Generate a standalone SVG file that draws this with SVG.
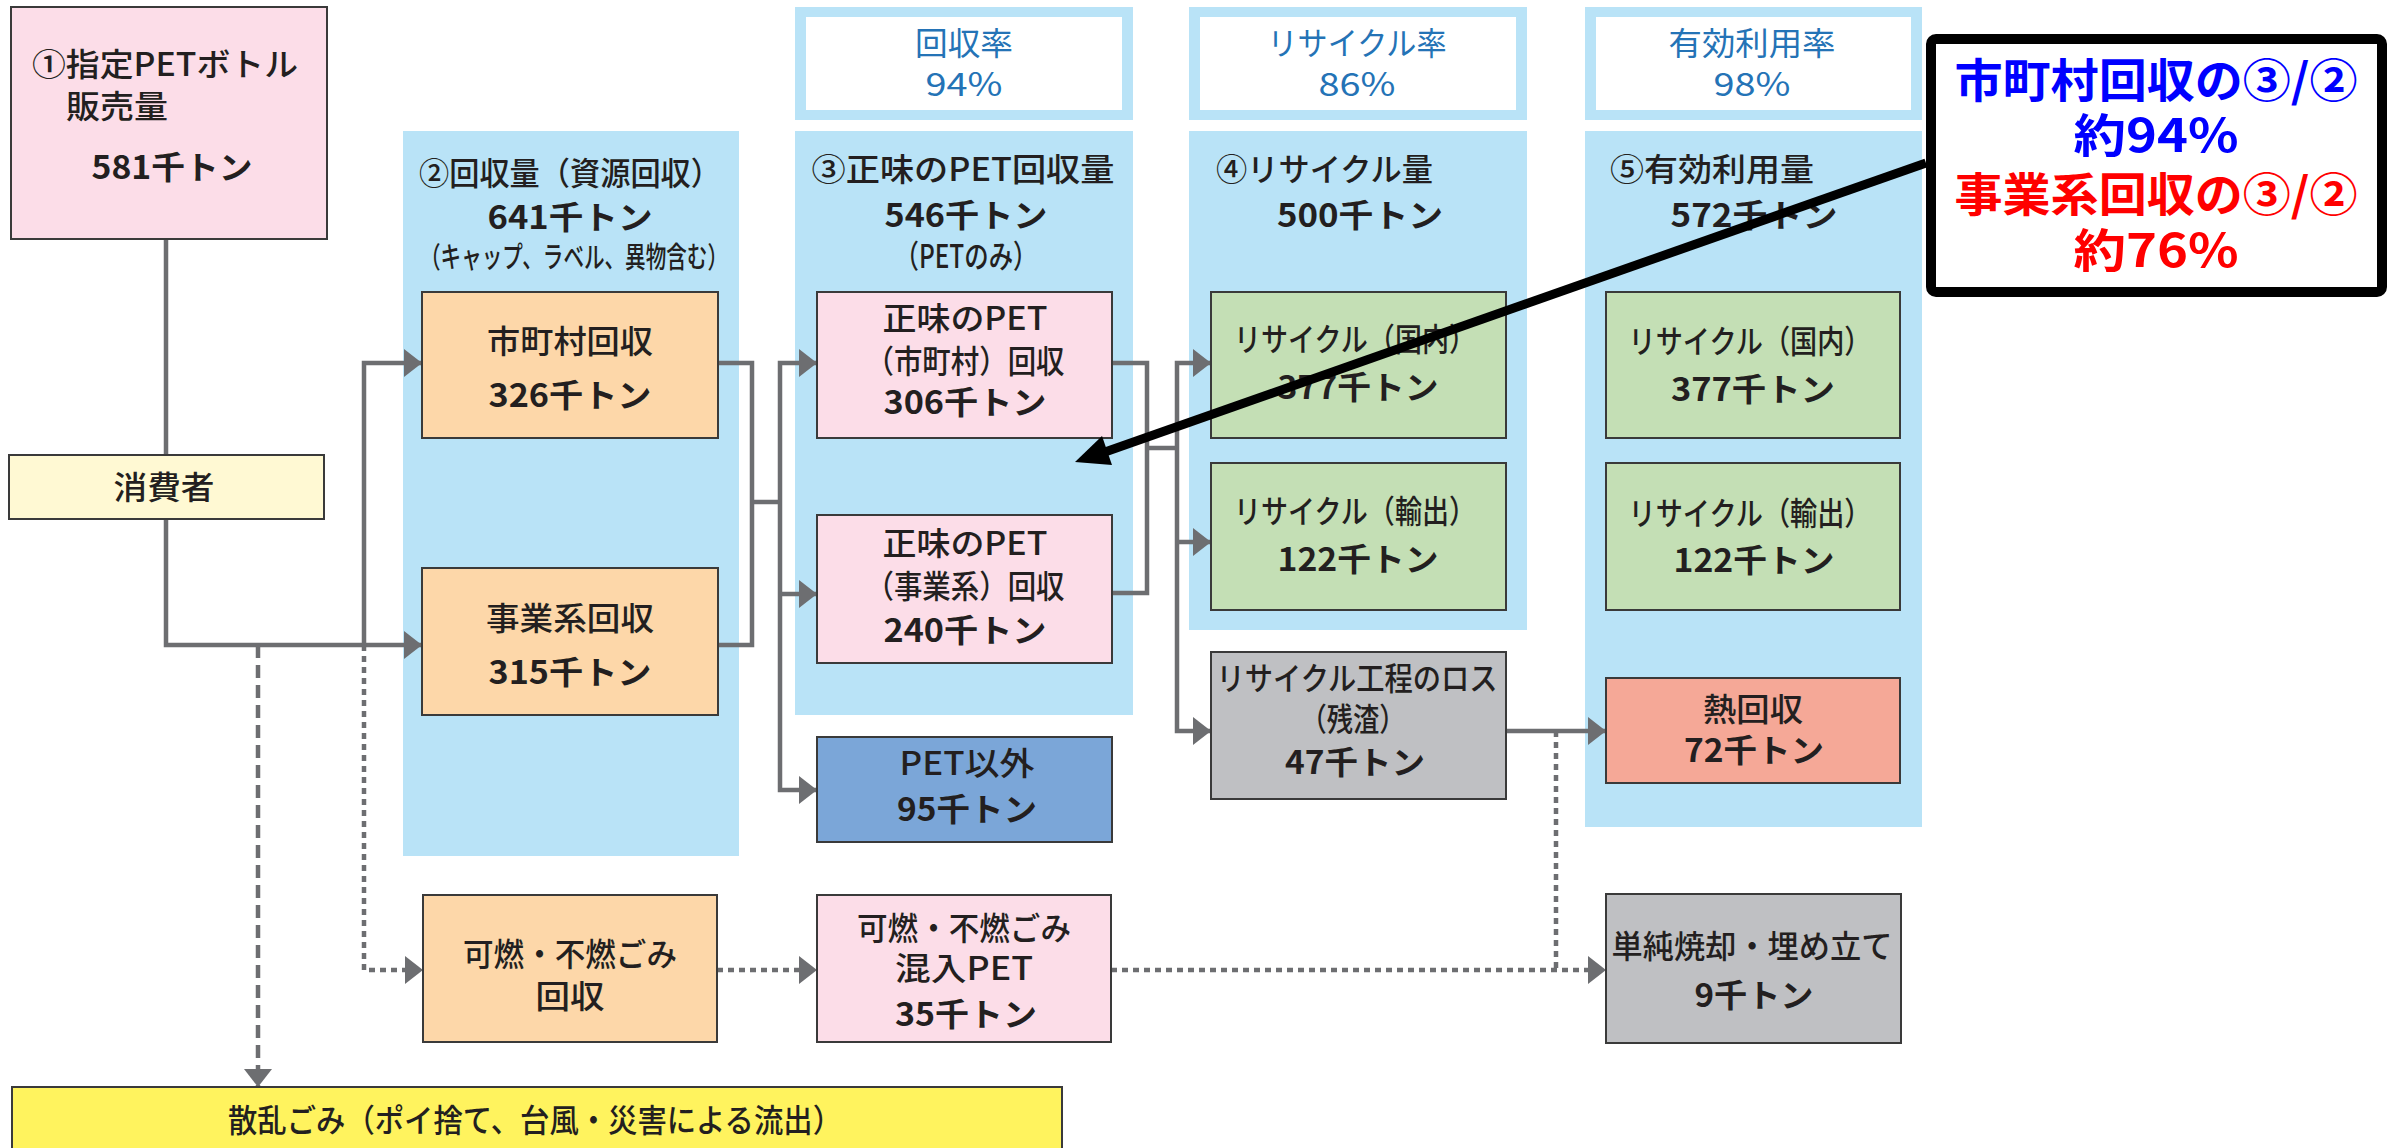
<svg xmlns="http://www.w3.org/2000/svg" width="2389" height="1148" viewBox="0 0 2389 1148">
<style>
.panel{fill:#B9E3F7}
.box{stroke:#3a3a3a;stroke-width:2}
.pink{fill:#FCDDE8}
.orange{fill:#FDD7A9}
.green{fill:#C4DFB5}
.gray{fill:#BFC0C3}
.t{font-family:"Noto Sans CJK JP","Noto Sans",sans-serif;font-size:32px;font-weight:500;fill:#231F20;text-anchor:middle}
.n{font-weight:bold}
.s{text-anchor:start}
.rate{fill:#2473B6;font-weight:normal}
.conn{stroke:#6D6E71;stroke-width:4.5;fill:none}
.dot{stroke-dasharray:6 5}
.dash{stroke-dasharray:13 7}
.co{font-family:"Noto Sans CJK JP",sans-serif;font-size:46px;font-weight:bold;text-anchor:middle}
</style>
<defs>
<marker id="ah" markerUnits="userSpaceOnUse" markerWidth="18" markerHeight="28" refX="18" refY="14" orient="auto">
<path d="M0,0 L18,14 L0,28 z" fill="#6D6E71"/>
</marker>
</defs>
<rect width="2389" height="1148" fill="#FFFFFF"/>

<g id="panels">
<rect class="panel" x="403" y="131" width="336" height="725"/>
<rect class="panel" x="795" y="131" width="338" height="584"/>
<rect class="panel" x="1189" y="131" width="338" height="499"/>
<rect class="panel" x="1585" y="131" width="337" height="696"/>
</g>

<g id="rate-recovery">
<rect class="panel" x="795" y="7" width="338" height="113"/>
<rect x="806" y="17" width="316" height="93" fill="#FFFFFF"/>
<text class="t rate" x="964" y="55" textLength="98" lengthAdjust="spacingAndGlyphs">回収率</text>
<text class="t rate" x="964" y="96" textLength="77" lengthAdjust="spacingAndGlyphs">94%</text>
</g>
<g id="rate-recycle">
<rect class="panel" x="1189" y="7" width="338" height="113"/>
<rect x="1200" y="17" width="316" height="93" fill="#FFFFFF"/>
<text class="t rate" x="1357" y="55" textLength="179" lengthAdjust="spacingAndGlyphs">リサイクル率</text>
<text class="t rate" x="1357" y="96" textLength="77" lengthAdjust="spacingAndGlyphs">86%</text>
</g>
<g id="rate-effective">
<rect class="panel" x="1585" y="7" width="337" height="113"/>
<rect x="1596" y="17" width="315" height="93" fill="#FFFFFF"/>
<text class="t rate" x="1752" y="55" textLength="167" lengthAdjust="spacingAndGlyphs">有効利用率</text>
<text class="t rate" x="1752" y="96" textLength="77" lengthAdjust="spacingAndGlyphs">98%</text>
</g>

<g id="panel-titles">
<text class="t" x="570" y="185" textLength="302" lengthAdjust="spacingAndGlyphs">②回収量（資源回収）</text>
<text class="t n" x="570" y="229" textLength="165" lengthAdjust="spacingAndGlyphs">641千トン</text>
<text class="t" x="574" y="268" style="font-size:29px" textLength="308" lengthAdjust="spacingAndGlyphs">（キャップ、ラベル、異物含む）</text>
<text class="t" x="963" y="181" textLength="303" lengthAdjust="spacingAndGlyphs">③正味のPET回収量</text>
<text class="t n" x="966" y="227" textLength="163" lengthAdjust="spacingAndGlyphs">546千トン</text>
<text class="t" x="966" y="268" textLength="143" lengthAdjust="spacingAndGlyphs">（PETのみ）</text>
<text class="t s" x="1216" y="181" textLength="217" lengthAdjust="spacingAndGlyphs">④リサイクル量</text>
<text class="t n" x="1360" y="227" textLength="166" lengthAdjust="spacingAndGlyphs">500千トン</text>
<text class="t s" x="1610" y="181" textLength="204" lengthAdjust="spacingAndGlyphs">⑤有効利用量</text>
<text class="t n" x="1754" y="227" textLength="167" lengthAdjust="spacingAndGlyphs">572千トン</text>
</g>

<g id="connectors">
<path class="conn" d="M166,239 V455"/>
<path class="conn" d="M166,519 V645 H422" marker-end="url(#ah)"/>
<path class="conn" d="M364,645 V363 H422" marker-end="url(#ah)"/>
<path class="conn dot" d="M364,645 V970 H423" marker-end="url(#ah)"/>
<path class="conn dash" d="M258,645 V1087" marker-end="url(#ah)"/>
<path class="conn" d="M718,363 H752 V645 H718"/>
<path class="conn" d="M752,502 H780"/>
<path class="conn" d="M780,502 V363 H817" marker-end="url(#ah)"/>
<path class="conn" d="M780,502 V790 H817" marker-end="url(#ah)"/>
<path class="conn" d="M780,594 H817" marker-end="url(#ah)"/>
<path class="conn" d="M1112,363 H1147 V593 H1112"/>
<path class="conn" d="M1147,448 H1177"/>
<path class="conn" d="M1177,448 V363 H1211" marker-end="url(#ah)"/>
<path class="conn" d="M1177,448 V731 H1211" marker-end="url(#ah)"/>
<path class="conn" d="M1177,542 H1211" marker-end="url(#ah)"/>
<path class="conn" d="M1506,731 H1606" marker-end="url(#ah)"/>
<path class="conn dot" d="M1556,731 V970"/>
<path class="conn dot" d="M717,970 H817" marker-end="url(#ah)"/>
<path class="conn dot" d="M1111,970 H1606" marker-end="url(#ah)"/>
</g>

<g id="n1-sales">
<rect class="box pink" x="11" y="7" width="316" height="232"/>
<text class="t s" x="32" y="76" textLength="266" lengthAdjust="spacingAndGlyphs">①指定PETボトル</text>
<text class="t s" x="66" y="118" textLength="102" lengthAdjust="spacingAndGlyphs">販売量</text>
<text class="t n" x="172" y="179" textLength="161" lengthAdjust="spacingAndGlyphs">581千トン</text>
</g>
<g id="n-consumer">
<rect class="box" x="9" y="455" width="315" height="64" fill="#FFF9D3"/>
<text class="t" x="164" y="499" textLength="101" lengthAdjust="spacingAndGlyphs">消費者</text>
</g>
<g id="n-municipal">
<rect class="box orange" x="422" y="292" width="296" height="146"/>
<text class="t" x="570" y="353" textLength="166" lengthAdjust="spacingAndGlyphs">市町村回収</text>
<text class="t n" x="570" y="407" textLength="163" lengthAdjust="spacingAndGlyphs">326千トン</text>
</g>
<g id="n-business">
<rect class="box orange" x="422" y="568" width="296" height="147"/>
<text class="t" x="570" y="630" textLength="168" lengthAdjust="spacingAndGlyphs">事業系回収</text>
<text class="t n" x="570" y="684" textLength="163" lengthAdjust="spacingAndGlyphs">315千トン</text>
</g>
<g id="n-burnable">
<rect class="box orange" x="423" y="895" width="294" height="147"/>
<text class="t" x="570" y="966" textLength="214" lengthAdjust="spacingAndGlyphs">可燃・不燃ごみ</text>
<text class="t" x="570" y="1008" textLength="69" lengthAdjust="spacingAndGlyphs">回収</text>
</g>
<g id="n-net-municipal">
<rect class="box pink" x="817" y="292" width="295" height="146"/>
<text class="t" x="965" y="330" textLength="165" lengthAdjust="spacingAndGlyphs">正味のPET</text>
<text class="t" x="965" y="373" textLength="199" lengthAdjust="spacingAndGlyphs">（市町村）回収</text>
<text class="t n" x="965" y="414" textLength="163" lengthAdjust="spacingAndGlyphs">306千トン</text>
</g>
<g id="n-net-business">
<rect class="box pink" x="817" y="515" width="295" height="148"/>
<text class="t" x="965" y="555" textLength="165" lengthAdjust="spacingAndGlyphs">正味のPET</text>
<text class="t" x="965" y="598" textLength="199" lengthAdjust="spacingAndGlyphs">（事業系）回収</text>
<text class="t n" x="965" y="642" textLength="163" lengthAdjust="spacingAndGlyphs">240千トン</text>
</g>
<g id="n-non-pet">
<rect class="box" x="817" y="737" width="295" height="105" fill="#7BA6D8"/>
<text class="t" x="967" y="775" textLength="135" lengthAdjust="spacingAndGlyphs">PET以外</text>
<text class="t n" x="967" y="821" textLength="140" lengthAdjust="spacingAndGlyphs">95千トン</text>
</g>
<g id="n-mixed-pet">
<rect class="box pink" x="817" y="895" width="294" height="147"/>
<text class="t" x="964" y="940" textLength="214" lengthAdjust="spacingAndGlyphs">可燃・不燃ごみ</text>
<text class="t" x="964" y="980" textLength="138" lengthAdjust="spacingAndGlyphs">混入PET</text>
<text class="t n" x="966" y="1026" textLength="142" lengthAdjust="spacingAndGlyphs">35千トン</text>
</g>
<g id="n-recycle-domestic">
<rect class="box green" x="1211" y="292" width="295" height="146"/>
<text class="t" x="1355" y="351" textLength="242" lengthAdjust="spacingAndGlyphs">リサイクル（国内）</text>
<text class="t n" x="1358" y="399" textLength="161" lengthAdjust="spacingAndGlyphs">377千トン</text>
</g>
<g id="n-recycle-export">
<rect class="box green" x="1211" y="463" width="295" height="147"/>
<text class="t" x="1355" y="523" textLength="242" lengthAdjust="spacingAndGlyphs">リサイクル（輸出）</text>
<text class="t n" x="1358" y="571" textLength="161" lengthAdjust="spacingAndGlyphs">122千トン</text>
</g>
<g id="n-loss">
<rect class="box gray" x="1211" y="652" width="295" height="147"/>
<text class="t" x="1357" y="690" textLength="281" lengthAdjust="spacingAndGlyphs">リサイクル工程のロス</text>
<text class="t" x="1353" y="731" textLength="105" lengthAdjust="spacingAndGlyphs">（残渣）</text>
<text class="t n" x="1355" y="774" textLength="140" lengthAdjust="spacingAndGlyphs">47千トン</text>
</g>
<g id="n-effective-domestic">
<rect class="box green" x="1606" y="292" width="294" height="146"/>
<text class="t" x="1750" y="353" textLength="243" lengthAdjust="spacingAndGlyphs">リサイクル（国内）</text>
<text class="t n" x="1753" y="401" textLength="164" lengthAdjust="spacingAndGlyphs">377千トン</text>
</g>
<g id="n-effective-export">
<rect class="box green" x="1606" y="463" width="294" height="147"/>
<text class="t" x="1750" y="525" textLength="243" lengthAdjust="spacingAndGlyphs">リサイクル（輸出）</text>
<text class="t n" x="1754" y="572" textLength="161" lengthAdjust="spacingAndGlyphs">122千トン</text>
</g>
<g id="n-heat">
<rect class="box" x="1606" y="678" width="294" height="105" fill="#F5A897"/>
<text class="t" x="1753" y="721" textLength="100" lengthAdjust="spacingAndGlyphs">熱回収</text>
<text class="t n" x="1754" y="762" textLength="140" lengthAdjust="spacingAndGlyphs">72千トン</text>
</g>
<g id="n-incineration">
<rect class="box gray" x="1606" y="894" width="295" height="149"/>
<text class="t" x="1752" y="958" textLength="281" lengthAdjust="spacingAndGlyphs">単純焼却・埋め立て</text>
<text class="t n" x="1754" y="1007" textLength="119" lengthAdjust="spacingAndGlyphs">9千トン</text>
</g>
<g id="n-litter">
<rect class="box" x="12" y="1087" width="1050" height="80" fill="#FFF35E"/>
<text class="t" x="535" y="1132" textLength="614" lengthAdjust="spacingAndGlyphs">散乱ごみ（ポイ捨て、台風・災害による流出）</text>
</g>

<g id="callout">
<path d="M1926,163 L1105,452" stroke="#000000" stroke-width="9" fill="none"/>
<polygon points="1075,462 1102,436 1112,465" fill="#000000"/>
<rect x="1931" y="39" width="451" height="253" rx="5" fill="#FFFFFF" stroke="#000000" stroke-width="10"/>
<text class="co" x="2156" y="97" fill="#0000FF" textLength="403" lengthAdjust="spacingAndGlyphs">市町村回収の③/②</text>
<text class="co" x="2156" y="152" fill="#0000FF" textLength="165" lengthAdjust="spacingAndGlyphs">約94%</text>
<text class="co" x="2156" y="211" fill="#FF0000" textLength="403" lengthAdjust="spacingAndGlyphs">事業系回収の③/②</text>
<text class="co" x="2156" y="267" fill="#FF0000" textLength="165" lengthAdjust="spacingAndGlyphs">約76%</text>
</g>
</svg>
